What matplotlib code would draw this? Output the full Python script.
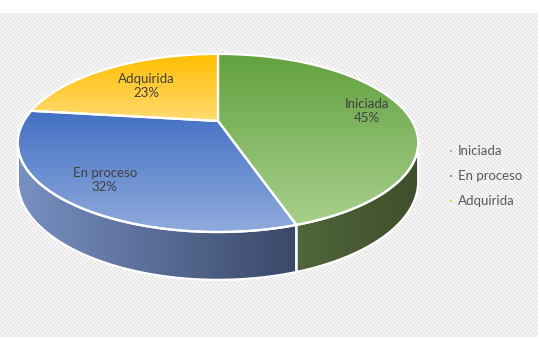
import numpy as np
import matplotlib.pyplot as plt
from matplotlib.patches import Polygon
from matplotlib.colors import LinearSegmentedColormap

labels = ['Iniciada', 'En proceso', 'Adquirida']
values = [45, 32, 23]
top_colors = [('#62a140', '#a8d08c'), ('#4370c4', '#90abdc'), ('#ffbe00', '#ffdb70')]
side_colors = [('#50663a', '#3f4f2b'), ('#7890c2', '#3a4868'), ('#c49000', '#a07800')]
legend_colors = ['#8fbf6e', '#6f8fce', '#ffd050']
label_radius = [0.8, 0.78, 0.62]

# pseudo-3d projection of the pie disc (pixel coordinates)
CX, CY, A, B, K, D = 218, 121, 194, 83.6, 0.247, 36


def proj(theta, r=1.0, drop=0.0):
    u = r * np.sin(theta)
    v = r * np.cos(theta)
    w = 1 + K * v
    return CX + A * u / w, CY - B * v / w + drop / w


def grad_fill(ax, verts, c0, c1, horizontal=False):
    patch = Polygon(verts, closed=True, facecolor='none', edgecolor='white', lw=1.6, zorder=4)
    ax.add_patch(patch)
    x0, y0 = verts.min(axis=0)
    x1, y1 = verts.max(axis=0)
    cmap = LinearSegmentedColormap.from_list('g', [c0, c1])
    g = np.linspace(0, 1, 256)
    g = g[None, :] if horizontal else g[:, None]
    im = ax.imshow(g, cmap=cmap, extent=(x0, x1, y1, y0), origin='upper',
                   aspect='auto', interpolation='bilinear', zorder=3)
    im.set_clip_path(patch)


fig = plt.figure(figsize=(5.4, 3.39), dpi=100)
ax = fig.add_axes([0, 0, 1, 1])
ax.set_xlim(0, 540)
ax.set_ylim(339, 0)
ax.axis('off')

# hatched chart background
yy, xx = np.mgrid[0:324, 0:538]
bg = np.where((xx - yy) % 4 < 1.5, 0.9, 0.975)
ax.imshow(bg, cmap='gray', vmin=0, vmax=1, extent=(0, 538, 337, 13),
          origin='upper', aspect='auto', interpolation='nearest', zorder=0)

fracs = np.array(values) / sum(values)
bounds = np.concatenate([[0], np.cumsum(fracs)]) * 2 * np.pi
vis_lo = np.arccos(-K)
vis_hi = 2 * np.pi - vis_lo

# side walls
for i in range(len(values)):
    a = max(bounds[i], vis_lo)
    b = min(bounds[i + 1], vis_hi)
    if b <= a:
        continue
    t = np.linspace(a, b, 120)
    tx, ty = proj(t)
    bx, by = proj(t[::-1], drop=D)
    verts = np.column_stack([np.concatenate([tx, bx]), np.concatenate([ty, by])])
    grad_fill(ax, verts, side_colors[i][0], side_colors[i][1], horizontal=True)

# top faces
for i in range(len(values)):
    t = np.linspace(bounds[i], bounds[i + 1], 200)
    tx, ty = proj(t)
    verts = np.column_stack([np.concatenate([[CX], tx]), np.concatenate([[CY], ty])])
    grad_fill(ax, verts, top_colors[i][0], top_colors[i][1])
    mid = (bounds[i] + bounds[i + 1]) / 2
    lx, ly = proj(mid, r=label_radius[i])
    ax.text(lx, ly, f'{labels[i]}\n{values[i]}%', ha='center', va='center',
            fontsize=9.5, family='Lato', color='#404040', linespacing=1.25, zorder=6)

# legend
for i, lab in enumerate(labels):
    y = 151 + i * 25
    ax.scatter([451], [y], marker='s', s=1.2, color=legend_colors[i], lw=0, zorder=6)
    ax.text(458, y, lab, ha='left', va='center', fontsize=9.5, family='Lato',
            color='#595959', zorder=6)

fig.savefig('out.png', dpi=100)
